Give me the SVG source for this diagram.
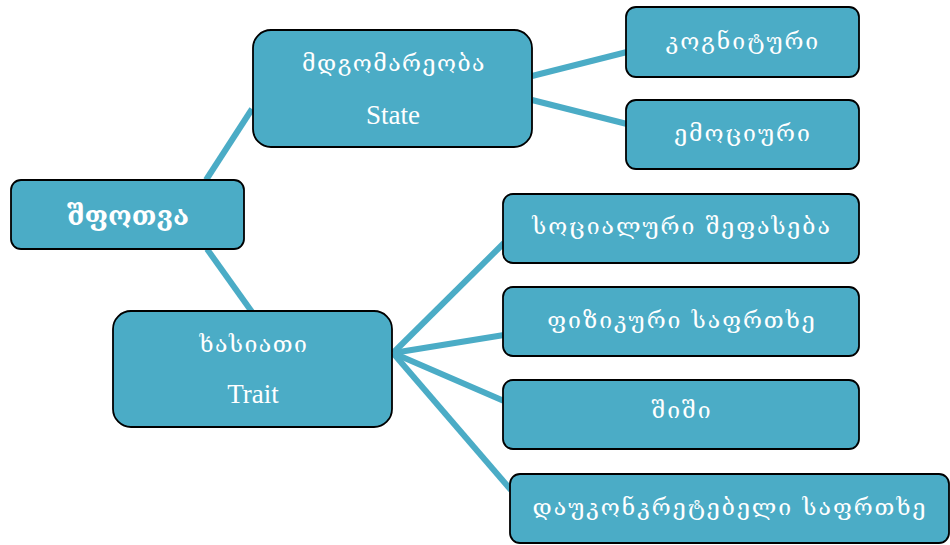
<svg xmlns="http://www.w3.org/2000/svg" width="950" height="545" viewBox="0 0 950 545">
<style>
.box{fill:#4bacc6;stroke:#000;stroke-width:1.8}
.t{fill:#fff;font-family:"DejaVu Serif","DejaVu Sans",serif;text-anchor:middle;dominant-baseline:central;letter-spacing:2px}
.en{fill:#fff;font-family:"Liberation Serif",serif;text-anchor:middle;dominant-baseline:central;font-size:27px}
.c{stroke:#4bacc6;stroke-width:6;fill:none}
</style>
<rect width="950" height="545" fill="#fff"/>
<g id="connectors">
<line class="c" x1="206" y1="180" x2="252" y2="109"/>
<line class="c" x1="207" y1="249" x2="252" y2="312"/>
<line class="c" x1="532" y1="76" x2="627" y2="52"/>
<line class="c" x1="532" y1="100" x2="627" y2="124"/>
<line class="c" x1="393" y1="353" x2="504" y2="243"/>
<line class="c" x1="393" y1="353" x2="504" y2="335"/>
<line class="c" x1="393" y1="353" x2="504" y2="401"/>
<line class="c" x1="393" y1="353" x2="511" y2="490"/>
</g>
<g id="root">
<rect class="box" x="11" y="180" width="233" height="69" rx="10"/>
<text class="t" x="128" y="215" font-size="27" font-weight="bold" style="letter-spacing:0">შფოთვა</text>
</g>
<g id="state">
<rect class="box" x="253" y="30" width="279" height="117" rx="18"/>
<text class="t" x="394" y="63" font-size="23" style="letter-spacing:1.5px">მდგომარეობა</text>
<text class="en" x="393" y="115">State</text>
</g>
<g id="trait">
<rect class="box" x="113" y="311" width="279" height="116" rx="18"/>
<text class="t" x="254" y="344" font-size="23" style="letter-spacing:1.5px">ხასიათი</text>
<text class="en" x="253" y="394">Trait</text>
</g>
<g id="cognitive">
<rect class="box" x="626" y="7" width="233" height="70" rx="10"/>
<text class="t" x="743" y="41" font-size="23">კოგნიტური</text>
</g>
<g id="emotional">
<rect class="box" x="626" y="100" width="233" height="69" rx="10"/>
<text class="t" x="743" y="133" font-size="23">ემოციური</text>
</g>
<g id="social">
<rect class="box" x="503" y="194" width="356" height="69" rx="10"/>
<text class="t" x="682" y="226" font-size="23">სოციალური  შეფასება</text>
</g>
<g id="physical">
<rect class="box" x="503" y="287" width="356" height="69" rx="10"/>
<text class="t" x="682" y="320" font-size="23">ფიზიკური  საფრთხე</text>
</g>
<g id="fear">
<rect class="box" x="503" y="380" width="356" height="69" rx="10"/>
<text class="t" x="682" y="410" font-size="23">შიში</text>
</g>
<g id="unspecified">
<rect class="box" x="510" y="474" width="439" height="69" rx="10"/>
<text class="t" x="730" y="507" font-size="23">დაუკონკრეტებელი  საფრთხე</text>
</g>
</svg>
